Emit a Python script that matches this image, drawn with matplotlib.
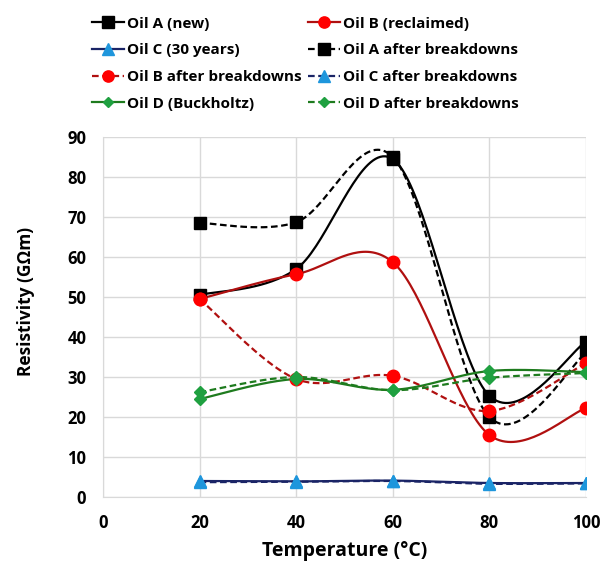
import numpy as np
import matplotlib
matplotlib.use("Agg")
import matplotlib.pyplot as plt
from matplotlib.lines import Line2D

temps = [20, 40, 60, 80, 100]
oil_a = [50.5, 57, 84.5, 25.3, 38.8]
oil_b = [49.5, 55.7, 58.7, 15.5, 22.2]
oil_c = [4.0, 3.9, 4.1, 3.5, 3.5]
oil_a_bd = [68.5, 68.7, 85, 20, 36]
oil_b_bd = [49.5, 29.5, 30.3, 21.5, 33.5]
oil_c_bd = [3.7, 3.8, 4.0, 3.3, 3.4]
oil_d = [24.5, 29.5, 26.8, 31.5, 31.2]
oil_d_bd = [26.2, 30.0, 26.7, 29.8, 31.0]

labels = ["Oil A (new)", "Oil B (reclaimed)", "Oil C (30 years)", "Oil A after breakdowns",
          "Oil B after breakdowns", "Oil C after breakdowns", "Oil D (Buckholtz)", "Oil D after breakdowns"]

plt.rcParams['font.family'] = ['Open Sans', 'DejaVu Sans']


def smooth(x, y, n=40):
    x = np.asarray(x, float); y = np.asarray(y, float)
    P = np.column_stack([x, y])
    out = []
    for i in range(len(P) - 1):
        p0 = P[i - 1] if i > 0 else P[i]
        p1 = P[i]; p2 = P[i + 1]
        p3 = P[i + 2] if i + 2 < len(P) else P[i + 1]
        c1 = p1 + (p2 - p0) / 6
        c2 = p2 - (p3 - p1) / 6
        t = np.linspace(0, 1, n)[:, None]
        seg = (1 - t) ** 3 * p1 + 3 * (1 - t) ** 2 * t * c1 + 3 * (1 - t) * t ** 2 * c2 + t ** 3 * p2
        out.append(seg if i == 0 else seg[1:])
    s = np.vstack(out)
    return s[:, 0], s[:, 1]


fig = plt.figure(figsize=(6.01, 5.63), dpi=100)
ax = fig.add_axes([103 / 601, 1 - 497 / 563, (586 - 103) / 601, (497 - 137) / 563])

series = [
    (oil_a, '-', 'black', 's', 'black', 9),
    (oil_b, '-', '#B01010', 'o', '#FF0000', 9),
    (oil_c, '-', '#1A2466', '^', '#1E96DC', 9),
    (oil_a_bd, '--', 'black', 's', 'black', 9),
    (oil_b_bd, '--', '#B01010', 'o', '#FF0000', 9),
    (oil_c_bd, '--', '#1A2466', '^', '#1E96DC', 9),
    (oil_d, '-', '#1E7B1E', 'D', '#1FA040', 6),
    (oil_d_bd, '--', '#1E7B1E', 'D', '#1FA040', 6),
]

handles = []
for (vals, ls, lc, mk, mc, ms), lab in zip(series, labels):
    sx, sy = smooth(temps, vals)
    if ls == '--':
        ax.plot(sx, sy, color=lc, lw=1.6, dashes=(3, 1.6), zorder=3)
    else:
        ax.plot(sx, sy, color=lc, lw=1.6, zorder=3)
    ax.plot(temps, vals, ls='none', marker=mk, color=mc, markersize=ms,
            markeredgecolor=mc, zorder=4)
    h = Line2D([], [], color=lc, lw=1.6, marker=mk, markersize=ms * 0.9,
               markerfacecolor=mc, markeredgecolor=mc)
    if ls == '--':
        h.set_dashes((3, 1.6))
    handles.append(h)

ax.set_xlim(0, 100)
ax.set_ylim(0, 90)
ax.set_xticks([0, 20, 40, 60, 80, 100])
ax.set_yticks(range(0, 91, 10))
ax.grid(True, color='#D9D9D9', lw=1)
ax.set_axisbelow(True)
for s in ['top', 'right']:
    ax.spines[s].set_visible(False)
for s in ['left', 'bottom']:
    ax.spines[s].set_color('#D9D9D9')
ax.tick_params(length=0, labelsize=12, pad=12)
for t in ax.get_xticklabels() + ax.get_yticklabels():
    t.set_fontweight('bold')
ax.set_xlabel('Temperature (°C)', fontsize=14, fontweight='bold')
ax.set_ylabel('Resistivity (GΩm)', fontsize=12.5, fontweight='bold')
ax.xaxis.set_label_coords(0.5, -0.122)
ax.yaxis.set_label_coords(-0.14, 0.542)

order = [0, 2, 4, 6, 1, 3, 5, 7]
fig.legend([handles[i] for i in order], [labels[i] for i in order], ncol=2,
           loc='upper left', bbox_to_anchor=(78 / 601, 1 - 3 / 563),
           frameon=False, prop={'weight': 'bold', 'size': 11}, handlelength=2.1,
           handletextpad=0.2, columnspacing=0.4, labelspacing=0.83)

fig.savefig('out.png', dpi=100)
